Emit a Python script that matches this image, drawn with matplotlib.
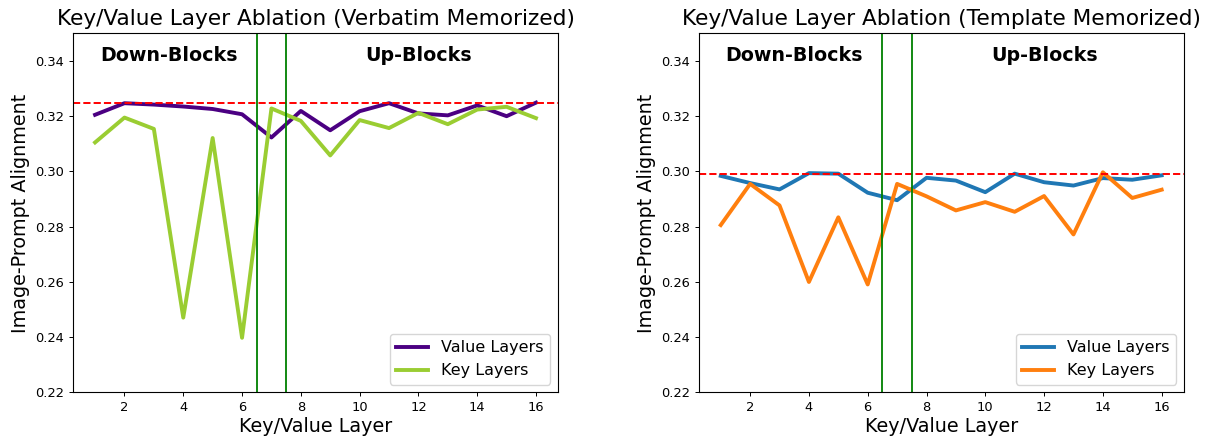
import matplotlib
matplotlib.use("Agg")
import matplotlib.pyplot as plt

layers = list(range(1, 17))

# Verbatim memorized
verb_value = [0.3205, 0.3247, 0.3242, 0.3235, 0.3226, 0.3207, 0.3123, 0.3219,
              0.3149, 0.3218, 0.3247, 0.3210, 0.3203, 0.3239, 0.3200, 0.3249]
verb_key = [0.3105, 0.3195, 0.3154, 0.2471, 0.3121, 0.2398, 0.3228, 0.3183,
            0.3058, 0.3186, 0.3157, 0.3212, 0.3171, 0.3224, 0.3234, 0.3193]
verb_ref = 0.3249

# Template memorized
tmpl_value = [0.2984, 0.2958, 0.2935, 0.2994, 0.2992, 0.2923, 0.2896, 0.2977,
              0.2967, 0.2925, 0.2992, 0.2961, 0.2949, 0.2976, 0.2970, 0.2986]
tmpl_key = [0.2806, 0.2955, 0.2877, 0.2600, 0.2834, 0.2591, 0.2955, 0.2910,
            0.2859, 0.2889, 0.2854, 0.2911, 0.2772, 0.2997, 0.2904, 0.2934]
tmpl_ref = 0.2992

panels = [
    ("Key/Value Layer Ablation (Verbatim Memorized)", verb_value, verb_key, verb_ref, "indigo", "yellowgreen"),
    ("Key/Value Layer Ablation (Template Memorized)", tmpl_value, tmpl_key, tmpl_ref, "tab:blue", "tab:orange"),
]

fig, axes = plt.subplots(1, 2, figsize=(12.07, 4.44), dpi=100)
fig.subplots_adjust(left=0.0605, right=0.9807, bottom=0.116, top=0.925, wspace=0.29)

for ax, (title, vals, keys, ref, c_val, c_key) in zip(axes, panels):
    ax.plot(layers, vals, color=c_val, lw=2.8, label="Value Layers")
    ax.plot(layers, keys, color=c_key, lw=2.8, label="Key Layers")
    ax.axhline(ref, color="red", ls="--", lw=1.4)
    ax.axvline(6.5, color="green", lw=1.3)
    ax.axvline(7.5, color="green", lw=1.3)
    ax.text(3.5, 0.342, "Down-Blocks", ha="center", va="center", fontsize=13.7, fontweight="bold")
    ax.text(12, 0.342, "Up-Blocks", ha="center", va="center", fontsize=13.7, fontweight="bold")
    ax.set_ylim(0.22, 0.35)
    ax.set_yticks([0.22, 0.24, 0.26, 0.28, 0.30, 0.32, 0.34])
    ax.set_xticks([2, 4, 6, 8, 10, 12, 14, 16])
    ax.tick_params(labelsize=9.4, length=2.8, width=0.7)
    ax.set_title(title, fontsize=15.6)
    ax.set_xlabel("Key/Value Layer", fontsize=13.8, labelpad=2)
    ax.set_ylabel("Image-Prompt Alignment", fontsize=13.8)
    ax.legend(loc="lower right", fontsize=11.5)

fig.savefig("out.png", dpi=100)
